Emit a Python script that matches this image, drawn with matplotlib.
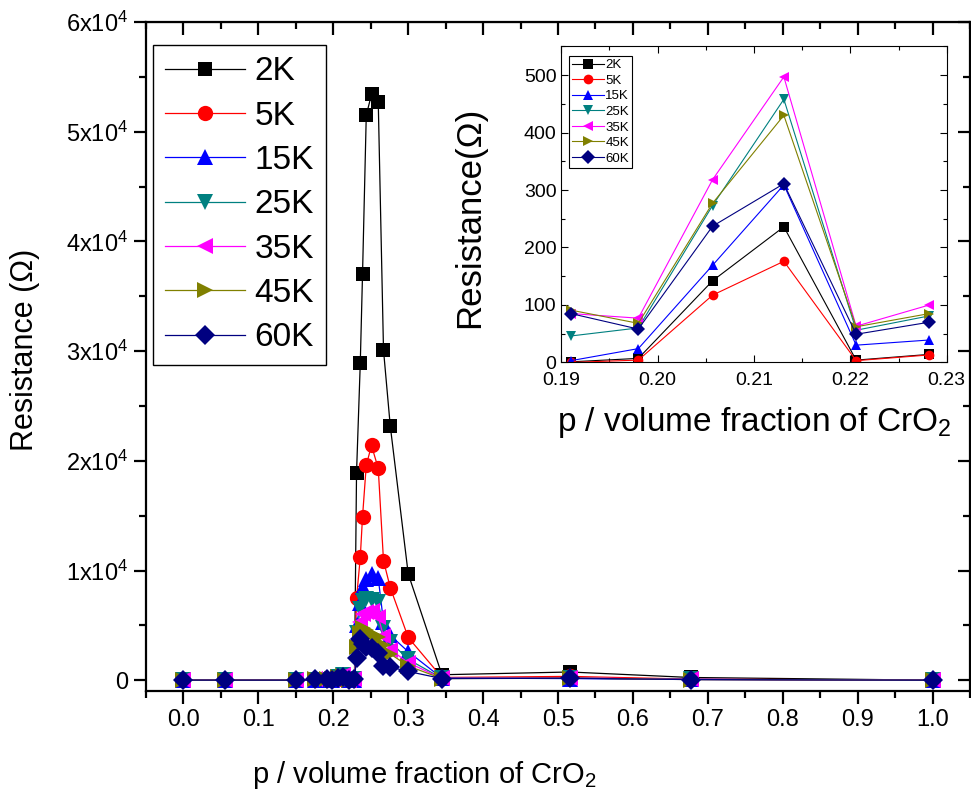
import matplotlib

matplotlib.use("Agg")
import matplotlib.pyplot as plt
from matplotlib.ticker import MultipleLocator, FuncFormatter

plt.rcParams["font.family"] = ["Liberation Sans", "DejaVu Sans"]
plt.rcParams["mathtext.fontset"] = "custom"
plt.rcParams["mathtext.rm"] = "Liberation Sans"
plt.rcParams["mathtext.it"] = "Liberation Sans:italic"

# volume fraction of CrO2
p = [0.0, 0.055, 0.15, 0.176, 0.191, 0.198, 0.2057, 0.2131, 0.2206, 0.2282,
     0.231, 0.236, 0.239, 0.244, 0.251, 0.260, 0.267, 0.276, 0.300, 0.345,
     0.516, 0.677, 1.0]

# resistance (ohm) per temperature
r_2k = [5, 3, 4, 2, 1, 7, 142, 236, 4, 14,
        18900, 28900, 37000, 51500, 53400, 52700, 30100, 23200, 9700, 500,
        750, 250, 5]
r_5k = [4, 3, 3, 2, 0, 4, 117, 176, 3, 13,
        7450, 11200, 14900, 19600, 21400, 19300, 10900, 8450, 3900, 250,
        350, 100, 4]
r_15k = [6, 5, 4, 3, 3, 24, 169, 309, 30, 39,
         5000, 7000, 8500, 9200, 9700, 9300, 5300, 4100, 2600, 200,
         150, 80, 4]
r_25k = [8, 6, 5, 40, 46, 60, 273, 458, 56, 81,
         4300, 6500, 7200, 7400, 7300, 7100, 4800, 3500, 1900, 180,
         200, 70, 4]
r_35k = [9, 7, 6, 70, 85, 77, 318, 497, 63, 100,
         3600, 5300, 6000, 6200, 6300, 5800, 4000, 2800, 1600, 170,
         220, 70, 4]
r_45k = [9, 7, 6, 75, 91, 68, 277, 430, 62, 85,
         3000, 4300, 4800, 4600, 4200, 3900, 3200, 2400, 1300, 150,
         200, 60, 4]
r_60k = [9, 7, 6, 70, 85, 58, 237, 311, 49, 70,
         2000, 3800, 3300, 3000, 2900, 2500, 1300, 1200, 800, 150,
         180, 60, 4]

labels = ["2K", "5K", "15K", "25K", "35K", "45K", "60K"]
series = [r_2k, r_5k, r_15k, r_25k, r_35k, r_45k, r_60k]
colors = ["#000000", "#FF0000", "#0000FF", "#008080", "#FF00FF", "#808000", "#000080"]
markers = ["s", "o", "^", "v", "<", ">", "D"]
sizes = [10, 11, 12, 12, 12, 12, 10]

# inset shows the points between 0.19 and 0.23
i0, i1 = 4, 10

fig = plt.figure(figsize=(9.71, 8.0), dpi=100)
ax = fig.add_axes([0.1504, 0.136, 0.8486, 0.8365])

for r, lab, c, m, s in zip(series, labels, colors, markers, sizes):
    ax.plot(p, r, color=c, marker=m, markersize=s, linewidth=0.9,
            markeredgewidth=0, label=lab)

ax.set_xlim(-0.05, 1.05)
ax.set_ylim(-1000, 60000)
ax.xaxis.set_major_locator(MultipleLocator(0.1))
ax.xaxis.set_minor_locator(MultipleLocator(0.05))
ax.yaxis.set_major_locator(MultipleLocator(10000))
ax.yaxis.set_minor_locator(MultipleLocator(5000))
ax.xaxis.set_major_formatter(FuncFormatter(lambda v, pos: "%.1f" % v))
ax.yaxis.set_major_formatter(
    FuncFormatter(lambda v, pos: "0" if abs(v) < 1 else "%dx10$^{4}$" % round(v / 1e4)))
ax.tick_params(which="major", direction="out", length=9, width=1.6, labelsize=17)
ax.tick_params(which="minor", direction="out", length=5, width=1.6)
for sp in ax.spines.values():
    sp.set_linewidth(1.6)

# top and right ticks point inward
top = ax.secondary_xaxis("top")
top.xaxis.set_major_locator(MultipleLocator(0.1))
top.xaxis.set_minor_locator(MultipleLocator(0.05))
top.tick_params(which="major", direction="in", length=9, width=1.6, labeltop=False)
top.tick_params(which="minor", direction="in", length=5, width=1.6)
right = ax.secondary_yaxis("right")
right.yaxis.set_major_locator(MultipleLocator(10000))
right.yaxis.set_minor_locator(MultipleLocator(5000))
right.tick_params(which="major", direction="in", length=9, width=1.6, labelright=False)
right.tick_params(which="minor", direction="in", length=5, width=1.6)

ax.set_xlabel("p / volume fraction of CrO$_2$", fontsize=21)
ax.xaxis.set_label_coords(0.337, -0.102)
ax.set_ylabel("Resistance (\u03a9)", fontsize=22)
ax.yaxis.set_label_coords(-0.129, 0.51)

leg = ax.legend(loc="upper left", bbox_to_anchor=(0.0085, 0.966), borderaxespad=0,
                fontsize=24, frameon=True, fancybox=False,
                edgecolor="black", framealpha=1, handlelength=2.4,
                handletextpad=0.3, labelspacing=0.4, borderpad=0.35)
leg.get_frame().set_linewidth(1.0)

# inset
ins = fig.add_axes([0.578, 0.547, 0.397, 0.395])
for r, lab, c, m in zip(series, labels, colors, markers):
    ins.plot(p[i0:i1], r[i0:i1], color=c, marker=m, markersize=7,
             linewidth=0.8, markeredgewidth=0, label=lab)
ins.set_xlim(0.19, 0.23)
ins.set_ylim(0, 550)
ins.xaxis.set_major_locator(MultipleLocator(0.01))
ins.xaxis.set_minor_locator(MultipleLocator(0.005))
ins.yaxis.set_major_locator(MultipleLocator(100))
ins.yaxis.set_minor_locator(MultipleLocator(50))
ins.xaxis.set_major_formatter(FuncFormatter(lambda v, pos: "%.2f" % v))
ins.tick_params(which="both", direction="in", top=True, right=True, width=0.8)
ins.tick_params(which="major", length=5, labelsize=14)
ins.tick_params(which="minor", length=3)
ins.tick_params(axis="x", which="major", pad=7)
ins.set_xlabel("p / volume fraction of CrO$_2$", fontsize=24)
ins.xaxis.set_label_coords(0.5, -0.135)
ins.set_ylabel("Resistance(\u03a9)", fontsize=25)
ins.yaxis.set_label_coords(-0.195, 0.46)
ileg = ins.legend(loc="upper left", bbox_to_anchor=(0.02, 0.97), borderaxespad=0,
                  fontsize=9.5, frameon=True, fancybox=False,
                  edgecolor="black", framealpha=1, handlelength=2.4,
                  handletextpad=0.1, labelspacing=0.25, borderpad=0.25)
ileg.get_frame().set_linewidth(0.8)

fig.savefig("out.png", dpi=100)
